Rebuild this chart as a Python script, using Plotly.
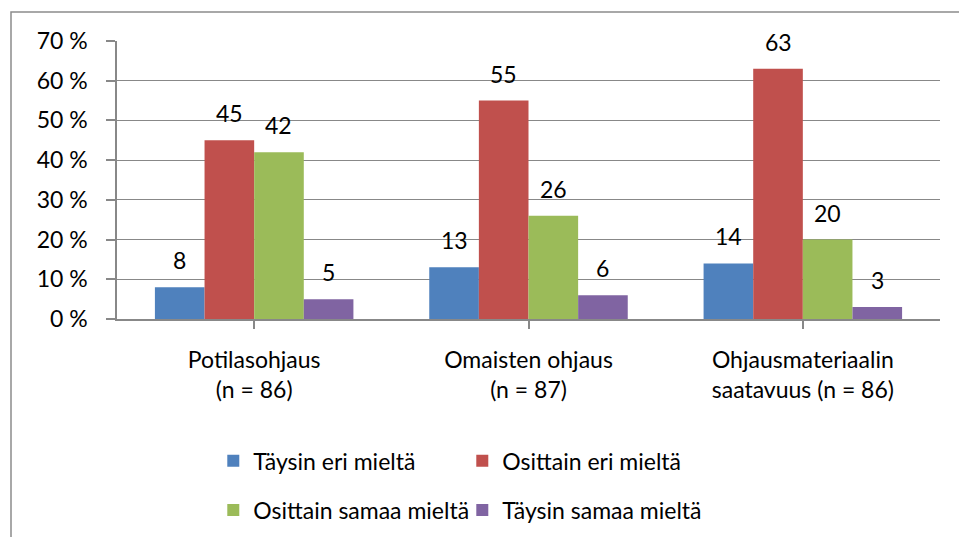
import plotly.graph_objects as go

categories = ["Potilasohjaus<br>(n = 86)", "Omaisten ohjaus<br>(n = 87)", "Ohjausmateriaalin<br>saatavuus (n = 86)"]
series_names = ["Täysin eri mieltä", "Osittain eri mieltä", "Osittain samaa mieltä", "Täysin samaa mieltä"]
taysin_eri = [8, 13, 14]
osittain_eri = [45, 55, 63]
osittain_samaa = [42, 26, 20]
taysin_samaa = [5, 6, 3]
series_values = [taysin_eri, osittain_eri, osittain_samaa, taysin_samaa]
colors = ["#4F81BD", "#C0504D", "#9BBB59", "#8064A2"]
y_ticks = [0, 10, 20, 30, 40, 50, 60, 70]
y_tick_labels = [f"{v} %" for v in y_ticks]

FONT = "Lato, 'Open Sans', sans-serif"
FS = 23
BARGAP = 0.2764
n = len(series_names)

fig = go.Figure()
legends = ["legend", "legend", "legend2", "legend2"]
for i, (name, vals) in enumerate(zip(series_names, series_values)):
    fig.add_trace(go.Bar(
        x=list(range(len(categories))), y=vals, name=name,
        marker=dict(color=colors[i], line=dict(width=0)),
        legend=legends[i],
    ))

# data labels above the bars
bw = (1 - BARGAP) / n
for i, vals in enumerate(series_values):
    off = (i - (n - 1) / 2) * bw
    for j, v in enumerate(vals):
        fig.add_annotation(x=j + off, y=v, xref="x", yref="y", text=str(v),
                           showarrow=False, yshift=27,
                           font=dict(size=FS, color="#000000", family=FONT))

grid = "#888888"
fig.update_layout(
    width=959, height=537,
    margin=dict(l=117, r=19, t=41, b=218, autoexpand=False),
    paper_bgcolor="white", plot_bgcolor="white",
    barmode="group", bargap=BARGAP, bargroupgap=0,
    font=dict(family=FONT, size=FS, color="#000000"),
    xaxis=dict(
        tickmode="array", tickvals=list(range(len(categories))), ticktext=categories,
        range=[-0.5, len(categories) - 0.5],
        showline=True, linecolor=grid, linewidth=1.5,
        ticks="outside", tickson="boundaries", ticklen=8, tickcolor=grid, tickwidth=1.5,
        showgrid=False, zeroline=False, automargin=False,
        ticklabelstandoff=12,
        tickfont=dict(size=FS, family=FONT, color="#000000"),
    ),
    yaxis=dict(
        range=[0, 70], tickmode="array", tickvals=y_ticks, ticktext=y_tick_labels,
        showline=True, linecolor=grid, linewidth=1.5,
        ticks="outside", ticklen=9, tickcolor=grid, tickwidth=1.5,
        showgrid=True, gridcolor=grid, gridwidth=1.2, zeroline=False, automargin=False,
        ticklabelstandoff=14,
        tickfont=dict(size=FS, family=FONT, color="#000000"),
    ),
    legend=dict(orientation="h", x=0.117, y=-0.51, xanchor="left", yanchor="middle",
                entrywidth=204, entrywidthmode="pixels",
                font=dict(size=FS, family=FONT, color="#000000"), bgcolor="rgba(0,0,0,0)"),
    legend2=dict(orientation="h", x=0.117, y=-0.687, xanchor="left", yanchor="middle",
                 entrywidth=204, entrywidthmode="pixels",
                 font=dict(size=FS, family=FONT, color="#000000"), bgcolor="rgba(0,0,0,0)"),
    showlegend=True,
)

# outer chart border (cut off at right and bottom in the reference)
fig.add_shape(type="rect", xref="paper", yref="paper",
              x0=(11 - 117) / 823, x1=(975 - 117) / 823,
              y0=(319 - 560) / 278, y1=(319 - 12) / 278,
              line=dict(color="#8c8c8c", width=1.5), fillcolor="rgba(0,0,0,0)", layer="below")

fig.write_html("out.html", config={"displayModeBar": False},
               post_script="document.body.style.margin='0';document.body.style.overflow='hidden';")
